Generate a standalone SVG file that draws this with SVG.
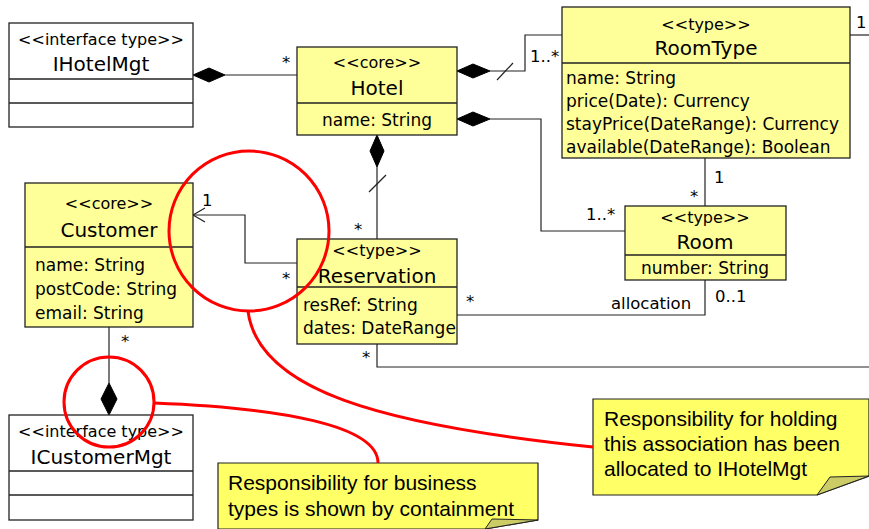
<svg xmlns="http://www.w3.org/2000/svg" width="869" height="529" viewBox="0 0 869 529">
<defs>
<style>
.cls{fill:#ffff99;stroke:#222;stroke-width:1.3}
.ifc{fill:#fff;stroke:#222;stroke-width:1.3}
.div{stroke:#222;stroke-width:1.3}
.st{font-family:"DejaVu Sans",sans-serif;font-size:16px;fill:#000;text-anchor:middle}
.nm{font-family:"DejaVu Sans",sans-serif;font-size:20px;fill:#000;text-anchor:middle}
.at{font-family:"DejaVu Sans",sans-serif;font-size:17px;fill:#000}
.lbl{font-family:"DejaVu Sans",sans-serif;font-size:16.5px;fill:#000}
.ln{fill:none;stroke:#222;stroke-width:1.2}
.dia{fill:#000;stroke:#000}
.red{fill:none;stroke:#ff0000;stroke-width:3}
.note{fill:#ffff66;stroke:#222;stroke-width:1.2}
.fold{fill:#cccc66;stroke:#222;stroke-width:1}
.nt{font-family:"Liberation Sans",Arial,sans-serif;font-size:21px;fill:#000}
</style>
</defs>
<g id="connectors">
<polygon class="dia" points="193,75 209,68 225,75 209,82"/>
<line class="ln" x1="225" y1="75" x2="297" y2="75"/>
<text class="lbl" x="282" y="68">*</text>
<polygon class="dia" points="457,71 473,64 490,71 473,78"/>
<polyline class="ln" points="490,71 525,71 525,35 562,35"/>
<line class="ln" x1="497" y1="80" x2="513" y2="63"/>
<text class="lbl" x="530" y="62">1..*</text>
<line class="ln" x1="850" y1="35" x2="869" y2="35"/>
<text class="lbl" x="856" y="28">1</text>
<polygon class="dia" points="457,119 473,112 490,119 473,126"/>
<polyline class="ln" points="490,119 541,119 541,231 625,231"/>
<text class="lbl" x="586" y="220">1..*</text>
<line class="ln" x1="705" y1="158" x2="705" y2="206"/>
<text class="lbl" x="714" y="183">1</text>
<text class="lbl" x="690" y="202">*</text>
<polygon class="dia" points="377,135 384,151 377,167 370,151"/>
<line class="ln" x1="377" y1="167" x2="377" y2="239"/>
<line class="ln" x1="369" y1="192" x2="386" y2="175"/>
<text class="lbl" x="354" y="235">*</text>
<polyline class="ln" points="297,263 245,263 245,215 193,215"/>
<polyline class="ln" points="205,208 193,215 205,222"/>
<text class="lbl" x="202" y="206">1</text>
<text class="lbl" x="282" y="284">*</text>
<polyline class="ln" points="457,315 705,315 705,280"/>
<text class="lbl" x="466" y="307">*</text>
<text class="lbl" x="611" y="309">allocation</text>
<text class="lbl" x="715" y="302">0..1</text>
<polyline class="ln" points="377,344 377,367 869,367"/>
<text class="lbl" x="362" y="363">*</text>
<line class="ln" x1="109" y1="327" x2="109" y2="383"/>
<polygon class="dia" points="109,383 117,399 109,415 101,399"/>
<text class="lbl" x="121" y="347">*</text>
</g>
<g id="IHotelMgt">
<rect class="ifc" x="9" y="23" width="184" height="104"/>
<line class="div" x1="9" y1="79" x2="193" y2="79"/>
<line class="div" x1="9" y1="103" x2="193" y2="103"/>
<text class="st" x="101" y="45">&lt;&lt;interface type&gt;&gt;</text>
<text class="nm" x="101" y="71">IHotelMgt</text>
</g>
<g id="Hotel">
<rect class="cls" x="297" y="47" width="160" height="88"/>
<line class="div" x1="297" y1="103" x2="457" y2="103"/>
<text class="st" x="377" y="68">&lt;&lt;core&gt;&gt;</text>
<text class="nm" x="377" y="95">Hotel</text>
<text class="at" x="377" y="126" text-anchor="middle">name: String</text>
</g>
<g id="RoomType">
<rect class="cls" x="562" y="7" width="288" height="151"/>
<line class="div" x1="562" y1="63" x2="850" y2="63"/>
<text class="st" x="706" y="30">&lt;&lt;type&gt;&gt;</text>
<text class="nm" x="706" y="55">RoomType</text>
<text class="at" x="566" y="84">name: String</text>
<text class="at" x="566" y="107">price(Date): Currency</text>
<text class="at" x="566" y="130">stayPrice(DateRange): Currency</text>
<text class="at" x="566" y="153">available(DateRange): Boolean</text>
</g>
<g id="Room">
<rect class="cls" x="625" y="206" width="161" height="74"/>
<line class="div" x1="625" y1="255" x2="786" y2="255"/>
<text class="st" x="705" y="223">&lt;&lt;type&gt;&gt;</text>
<text class="nm" x="705" y="249">Room</text>
<text class="at" x="705" y="274" text-anchor="middle">number: String</text>
</g>
<g id="Customer">
<rect class="cls" x="25" y="183" width="168" height="144"/>
<line class="div" x1="25" y1="247" x2="193" y2="247"/>
<text class="st" x="109" y="209">&lt;&lt;core&gt;&gt;</text>
<text class="nm" x="109" y="237">Customer</text>
<text class="at" x="35" y="271">name: String</text>
<text class="at" x="35" y="295">postCode: String</text>
<text class="at" x="35" y="319">email: String</text>
</g>
<g id="Reservation">
<rect class="cls" x="297" y="239" width="160" height="105"/>
<line class="div" x1="297" y1="287" x2="457" y2="287"/>
<text class="st" x="377" y="256">&lt;&lt;type&gt;&gt;</text>
<text class="nm" x="377" y="283">Reservation</text>
<text class="at" x="303" y="311">resRef: String</text>
<text class="at" x="303" y="334">dates: DateRange</text>
</g>
<g id="ICustomerMgt">
<rect class="ifc" x="9" y="415" width="184" height="105"/>
<line class="div" x1="9" y1="471" x2="193" y2="471"/>
<line class="div" x1="9" y1="495" x2="193" y2="495"/>
<text class="st" x="101" y="437">&lt;&lt;interface type&gt;&gt;</text>
<text class="nm" x="101" y="464">ICustomerMgt</text>
</g>
<g id="note1">
<path class="note" d="M218,463 H538 V520 L485,529 H218 Z"/>
<path class="fold" d="M485,529 L492,519 L538,520 Z"/>
<text class="nt" x="228" y="490">Responsibility for business</text>
<text class="nt" x="228" y="516">types is shown by containment</text>
</g>
<g id="note2">
<path class="note" d="M593,399 H869 V476 L817,495 H593 Z"/>
<path class="fold" d="M817,495 L830,477 L869,476 Z"/>
<text class="nt" x="604" y="426">Responsibility for holding</text>
<text class="nt" x="604" y="451">this association has been</text>
<text class="nt" x="604" y="476">allocated to IHotelMgt</text>
</g>
<g id="highlights">
<circle class="red" cx="249" cy="231" r="80"/>
<path class="red" d="M248,311 C258,390 380,425 593,447"/>
<circle class="red" cx="109" cy="402" r="45"/>
<path class="red" d="M154,403 C280,408 378,425 378,463"/>
</g>
</svg>
